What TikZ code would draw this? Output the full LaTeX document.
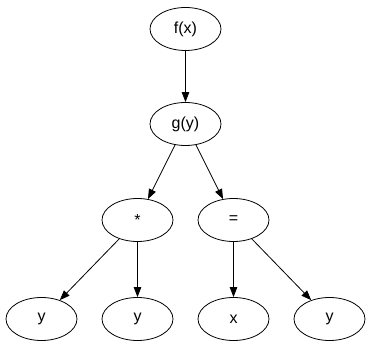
\documentclass[tikz,border=0pt]{standalone}
\usepackage{fontspec}
\setmainfont{Liberation Sans}
\usetikzlibrary{shapes.geometric,arrows.meta}
\begin{document}
\begin{tikzpicture}[x=1pt,y=1pt,
  tnode/.style={draw=black, line width=0.8pt, ellipse, minimum width=71pt, minimum height=43pt, inner sep=0pt, font=\fontsize{16}{18}\selectfont},
  edge/.style={draw=black, line width=0.8pt, -{Triangle[length=10pt,width=7.5pt]}}]
\useasboundingbox (0,0) rectangle (371,347);
\node[tnode] (f) at (185.5,318) {f(x)};
\node[tnode] (g) at (185.5,223) {g(y)};
\node[tnode] (m) at (137.5,127) {*};
\node[tnode] (e) at (233.5,127) {=};
\node[tnode] (y1) at (41.5,28) {y};
\node[tnode] (y2) at (137.5,28) {y};
\node[tnode] (x) at (233.5,28) {x};
\node[tnode] (y3) at (329.5,28) {y};
\draw[edge] (f) -- (g);
\draw[edge] (g) -- (m);
\draw[edge] (g) -- (e);
\draw[edge] (m) -- (y1);
\draw[edge] (m) -- (y2);
\draw[edge] (e) -- (x);
\draw[edge] (e) -- (y3);
\end{tikzpicture}
\end{document}
